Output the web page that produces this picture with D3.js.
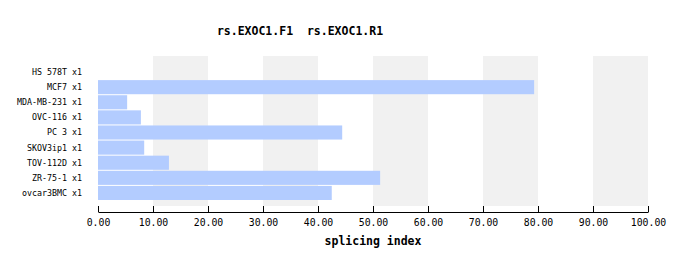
<!DOCTYPE html>
<html>
<head>
<meta charset="utf-8">
<script src="https://cdn.jsdelivr.net/npm/d3@7"></script>
<style>
  body { margin: 0; background: #fff; }
  svg text { font-family: "DejaVu Sans Mono", monospace; fill: #000; }
</style>
</head>
<body>
<script>
var fullWidth = 688;
var fullHeight = 266;

var samples = ["HS 578T x1", "MCF7 x1", "MDA-MB-231 x1", "OVC-116 x1", "PC 3 x1",
               "SKOV3ip1 x1", "TOV-112D x1", "ZR-75-1 x1", "ovcar3BMC x1"];
var values = [0, 79.3, 5.3, 7.8, 44.4, 8.4, 12.9, 51.3, 42.5];
var ticks = [0, 10, 20, 30, 40, 50, 60, 70, 80, 90, 100];
var title = "rs.EXOC1.F1  rs.EXOC1.R1";
var xTitle = "splicing index";

var svg = d3.select("body").append("svg")
            .attr("width", fullWidth)
            .attr("height", fullHeight);

var xScale = d3.scaleLinear().domain([0, 100]).range([98, 648]);
var yScale = d3.scaleBand().domain(samples).range([65, 200]).paddingInner(1 / 15).paddingOuter(0);

// alternating background bands
var bandStarts = ticks.slice(0, -1).filter(function(d, i) { return i % 2 == 1; });
svg.selectAll(".band")
   .data(bandStarts)
   .enter()
   .append("rect")
   .attr("class", "band")
   .attr("x", function(d) { return xScale(d); })
   .attr("width", function(d) { return xScale(d + 10) - xScale(d); })
   .attr("y", 56)
   .attr("height", 150)
   .style("fill", "#f1f1f1");

// bars
svg.selectAll(".bar")
   .data(values)
   .enter()
   .append("rect")
   .attr("class", "bar")
   .attr("x", xScale(0))
   .attr("y", function(d, i) { return yScale(samples[i]); })
   .attr("width", function(d) { return xScale(d) - xScale(0); })
   .attr("height", yScale.bandwidth())
   .style("fill", "#b3ccff");

// sample labels
svg.selectAll(".label")
   .data(samples)
   .enter()
   .append("text")
   .attr("class", "label")
   .attr("x", 82)
   .attr("y", function(d) { return yScale(d) + yScale.bandwidth() / 2; })
   .attr("dy", "0.35em")
   .style("text-anchor", "end")
   .style("font-size", "8.3px")
   .text(function(d) { return d; });

// x axis
var xAxis = d3.axisBottom(xScale)
              .tickValues(ticks)
              .tickSize(-6)
              .tickSizeOuter(0)
              .tickFormat(d3.format(".2f"));

var axis = svg.append("g")
   .attr("transform", "translate(0,212)")
   .call(xAxis);
axis.select(".domain").attr("stroke", "#000");
axis.selectAll(".tick line").attr("stroke", "#000");
axis.selectAll("text")
    .attr("y", 7)
    .attr("dy", "0.71em")
    .style("font-size", "9.8px")
    .style("font-family", "DejaVu Sans Mono, monospace");

// title (keep the double space)
svg.append("text")
   .attr("x", 300)
   .attr("y", 35)
   .style("text-anchor", "middle")
   .style("white-space", "pre")
   .style("font-size", "11.5px")
   .style("font-weight", "bold")
   .text(title);

// axis title
svg.append("text")
   .attr("x", (xScale(0) + xScale(100)) / 2)
   .attr("y", 245)
   .style("text-anchor", "middle")
   .style("font-size", "11.5px")
   .style("font-weight", "bold")
   .text(xTitle);
</script>
</body>
</html>
